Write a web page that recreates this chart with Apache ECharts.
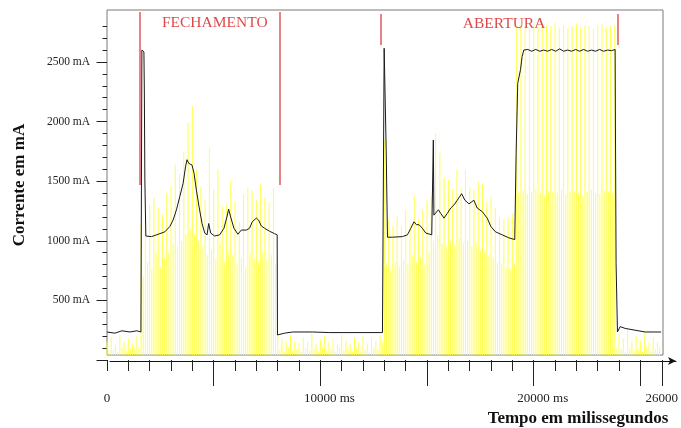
<!DOCTYPE html>
<html><head><meta charset="utf-8">
<script src="https://cdn.jsdelivr.net/npm/echarts@6/dist/echarts.min.js"></script>
<style>html,body{margin:0;padding:0;background:#fff}#c{width:681px;height:428px}</style>
</head><body><div id="c"></div><script>
// Amostras instantâneas (linhas amarelas): tempo em ms e corrente em mA
const amostraTempoMs = [
0,100,200,300,400,500,600,700,800,900,
1000,1100,1200,1300,1400,1500,1600,1700,1800,1900,
2000,2100,2200,2300,2400,2500,2600,2700,2800,2900,
3000,3100,3200,3300,3400,3500,3600,3700,3800,3900,
4000,4100,4200,4300,4400,4500,4600,4700,4800,4900,
5000,5100,5200,5300,5400,5500,5600,5700,5800,5900,
6000,6100,6200,6300,6400,6500,6600,6700,6800,6900,
7000,7100,7200,7300,7400,7500,7600,7700,7800,7900,
8000,8100,8200,8300,8400,8500,8600,8700,8800,8900,
9000,9100,9200,9300,9400,9500,9600,9700,9800,9900,
10000,10100,10200,10300,10400,10500,10600,10700,10800,10900,
11000,11100,11200,11300,11400,11500,11600,11700,11800,11900,
12000,12100,12200,12300,12400,12500,12600,12700,12800,12900,
13000,13100,13200,13300,13400,13500,13600,13700,13800,13900,
14000,14100,14200,14300,14400,14500,14600,14700,14800,14900,
15000,15100,15200,15300,15400,15500,15600,15700,15800,15900,
16000,16100,16200,16300,16400,16500,16600,16700,16800,16900,
17000,17100,17200,17300,17400,17500,17600,17700,17800,17900,
18000,18100,18200,18300,18400,18500,18600,18700,18800,18900,
19000,19100,19200,19300,19400,19500,19600,19700,19800,19900,
20000,20100,20200,20300,20400,20500,20600,20700,20800,20900,
21000,21100,21200,21300,21400,21500,21600,21700,21800,21900,
22000,22100,22200,22300,22400,22500,22600,22700,22800,22900,
23000,23100,23200,23300,23400,23500,23600,23700,23800,23900,
24000,24100,24200,24300,24400,24500,24600,24700,24800,24900,
25000,25100,25200,25300,25400,25500,25600,25700,25800,25900];
const amostraCorrenteMa = [
150,80,190,90,130,70,210,100,150,80,
180,90,140,100,200,110,1150,700,1180,820,
1300,760,1360,900,1280,780,1220,860,1400,900,
1460,980,1640,950,1560,1000,1750,1050,1990,1100,
2130,1050,1600,1000,1450,950,1340,880,1780,920,
1430,850,1600,980,1290,820,1300,900,1510,880,
1330,800,1160,860,1390,780,1440,900,1420,850,
1340,820,1480,900,1360,840,1320,880,1440,800,
230,90,180,70,150,100,210,80,160,90,
140,70,190,100,150,80,220,90,130,70,
170,100,200,80,150,90,180,70,140,100,
210,80,160,90,130,70,190,100,150,80,
200,90,140,70,180,100,160,90,210,150,
1850,800,1180,760,1120,820,1200,780,1120,840,
1260,800,1150,880,1380,820,1180,860,1260,800,
1340,900,1380,1000,1900,1050,1740,980,1530,950,
1510,1000,1430,960,1600,1020,1440,980,1600,1000,
1450,950,1430,980,1500,920,1480,900,1320,880,
1370,850,1280,820,1200,800,1180,780,1200,760,
1220,800,2790,1400,2810,1420,2800,1390,2780,1410,
2820,1430,2800,1400,2790,1380,2810,1420,2800,1410,
2830,1400,2790,1430,2810,1390,2780,1410,2800,1420,
2820,1400,2790,1380,2810,1410,2800,1430,2780,1400,
2810,1390,2820,1420,2790,1410,2800,1400,2810,100,
220,90,180,70,250,100,150,80,200,90,
160,70,230,100,140,80,190,90,150,110];

// Corrente eficaz (linha preta)
const linhaTempoMs = [0,370,700,1075,1400,1590,1635,1680,1730,1750,1775,1820,
2090,2400,2710,2945,3100,3255,3410,3565,3680,3750,
3830,3985,4080,4190,4315,4455,4580,4690,4765,4860,
5045,5280,5480,5620,5700,5795,5950,6135,6295,6530,
6680,6810,7000,7100,7230,7385,7620,7850,7975,7990,
8320,8705,9640,10420,11200,12135,12910,12960,12990,13040,
13085,13145,13380,13845,14080,14240,14390,14500,14625,14780,
14940,15220,15260,15295,15320,15530,15640,15795,15950,16110,
16260,16415,16620,16775,16965,17195,17350,17585,17820,17990,
18210,18520,18830,19110,19175,19250,19380,19455,19535,19720,
19905,20095,20280,20470,20655,20840,21030,21215,21400,21590,
21775,21965,22150,22335,22525,22710,22900,23085,23270,23460,
23645,23815,23830,23860,23925,24050,24285,24750,25220,25690,25970];
const linhaCorrenteMa = [235,225,245,235,245,235,2600,2615,2585,2265,1510,1040,
1035,1055,1075,1120,1175,1260,1370,1480,1620,1680,
1650,1635,1565,1425,1285,1145,1065,1050,1145,1065,
1040,1050,1105,1200,1265,1200,1105,1055,1090,1090,
1105,1160,1190,1175,1125,1105,1080,1060,1050,210,
225,235,235,230,230,230,230,235,2615,2600,
1760,1030,1030,1035,1050,1105,1160,1135,1135,1105,
1065,1050,1055,1845,1215,1260,1230,1190,1230,1275,
1300,1340,1395,1340,1310,1340,1275,1245,1190,1120,
1075,1050,1025,1010,1735,2320,2435,2545,2600,2605,
2590,2605,2590,2600,2590,2605,2590,2610,2590,2600,
2590,2605,2590,2605,2590,2600,2590,2605,2590,2600,
2595,2605,1955,810,235,280,265,250,235,235,235];

// Eixos
const yRotulosMa = [500,1000,1500,2000,2500];
const yMarcasMaiores = [0,500,1000,1500,2000,2500];
const yMarcasMenores = [100,200,300,400,600,700,800,900,1100,1200,1300,1400,1600,1700,1800,1900,2100,2200,2300,2400,2600,2700,2800];
const xRotulosMs = [0,10000,20000,26000];
const xMarcasCurtas = [0,1000,2000,3000,4000,6000,7000,8000,9000,11000,12000,13000,14000,16000,17000,18000,19000,21000,22000,23000,24000];
const xMarcasLongas = [5000,10000,15000,20000,25000,26000];

// Marcadores vermelhos e anotações
const marcadores = [
  {t:1530, de:1468, ate:2919},
  {t:8080, de:1468, ate:2919},
  {t:12850, de:2643, ate:2903},
  {t:23925, de:2643, ate:2903}];
const anotacoes = [
  {nome:'FECHAMENTO', t:5050, ma:2831},
  {nome:'ABERTURA', t:18610, ma:2816}];

const BASE_MA = 40;
const FONT = 'Liberation Serif';
const Y_MAX = 2936, X_MAX = 26000;

const chart = echarts.init(document.getElementById('c'), null, {renderer:'canvas', devicePixelRatio:1});
const amostras = amostraTempoMs.map((t,i)=>[t, amostraCorrenteMa[i]]);
const linha = linhaTempoMs.map((t,i)=>[t, linhaCorrenteMa[i]]);

chart.setOption({
  animation:false,
  backgroundColor:'#fff',
  grid:[
    {left:107, right:18, top:10, bottom:68, show:false},
    {left:107, right:18, top:10, bottom:73, show:true, borderColor:'#7a7a7a', borderWidth:1, backgroundColor:'transparent'},
    {left:110, right:5, top:10, bottom:67, show:false}
  ],
  xAxis:[
    {type:'value', gridIndex:0, min:0, max:X_MAX, position:'bottom', offset:3,
     axisLine:{show:false}, splitLine:{show:false},
     axisTick:{show:true, customValues:xMarcasCurtas, length:11, lineStyle:{color:'#222', width:1}},
     axisLabel:{show:true, customValues:xRotulosMs, margin:29, fontFamily:FONT, fontSize:13, color:'#222',
       formatter:function(v){ if(v===0) return '0'; if(v===X_MAX) return String(v); return '{m|'+v+' ms}'; },
       rich:{m:{padding:[0,0,0,18], fontFamily:FONT, fontSize:13, color:'#222'}}}},
    {type:'value', gridIndex:0, min:0, max:X_MAX, position:'bottom', offset:3,
     axisLine:{show:false}, splitLine:{show:false}, axisLabel:{show:false},
     axisTick:{show:true, customValues:xMarcasLongas, length:26, lineStyle:{color:'#222', width:1}}},
    {type:'value', gridIndex:1, min:0, max:1, show:false},
    {type:'value', gridIndex:2, min:0, max:1, position:'bottom',
     axisLine:{show:true, symbol:['none','arrow'], symbolSize:[6,8], lineStyle:{color:'#111', width:1}},
     axisTick:{show:false}, axisLabel:{show:false}, splitLine:{show:false}}
  ],
  yAxis:[
    {type:'value', gridIndex:0, min:0, max:Y_MAX, position:'left', offset:3,
     axisLine:{show:false}, splitLine:{show:false},
     axisTick:{show:true, customValues:yMarcasMaiores, length:10.5, lineStyle:{color:'#222', width:1}},
     axisLabel:{show:true, customValues:yRotulosMa, margin:14, fontFamily:FONT, fontSize:11.5, color:'#222',
       formatter:function(v){ return v+' mA'; }}},
    {type:'value', gridIndex:0, min:0, max:Y_MAX, position:'left', offset:3,
     axisLine:{show:false}, splitLine:{show:false}, axisLabel:{show:false},
     axisTick:{show:true, customValues:yMarcasMenores, length:4.5, lineStyle:{color:'#222', width:1}}},
    {type:'value', gridIndex:1, min:0, max:1, show:false},
    {type:'value', gridIndex:2, min:0, max:1, show:false}
  ],
  series:[
    {type:'custom', name:'amostras', xAxisIndex:0, yAxisIndex:0, z:1, silent:true, progressive:0,
     data:amostras,
     renderItem:function(params, api){
       const top = api.coord([api.value(0), api.value(1)]);
       const base = api.coord([api.value(0), BASE_MA]);
       return {type:'line', silent:true,
         shape:{x1:top[0], y1:base[1], x2:top[0], y2:top[1]},
         style:{stroke:'#ffff4d', lineWidth:1, opacity:1}};
     }},
    {type:'line', name:'corrente', xAxisIndex:0, yAxisIndex:0, z:5, data:linha, showSymbol:false, symbol:'none',
     lineStyle:{color:'#1a1a1a', width:1}, silent:true,
     markLine:{silent:true, symbol:['none','none'], label:{show:false},
       lineStyle:{color:'#e05a5a', width:1.5, type:'solid'},
       data:marcadores.map(m=>[{coord:[m.t, m.de]},{coord:[m.t, m.ate]}])}},
    {type:'scatter', name:'anotacoes', xAxisIndex:0, yAxisIndex:0, z:6, symbolSize:1, silent:true,
     itemStyle:{color:'rgba(0,0,0,0)'},
     data:anotacoes.map(a=>({name:a.nome, value:[a.t, a.ma]})),
     label:{show:true, position:'inside', formatter:'{b}', color:'#d41c1c', fontFamily:FONT, fontSize:15.5}}
  ],
  graphic:[
    {type:'text', x:20, y:185, rotation:Math.PI/2,
     style:{text:'Corrente em mA', fontFamily:FONT, fontSize:17, fontWeight:'bold', fill:'#111', align:'center', verticalAlign:'middle'}},
    {type:'text', x:578, y:419,
     style:{text:'Tempo em milissegundos', fontFamily:FONT, fontSize:17, fontWeight:'bold', fill:'#111', align:'center', verticalAlign:'middle'}}
  ]
});
</script></body></html>
